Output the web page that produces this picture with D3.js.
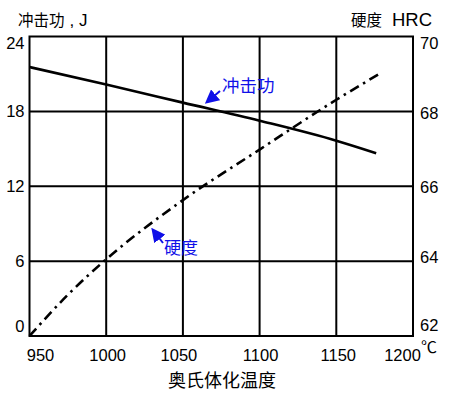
<!DOCTYPE html>
<html><head><meta charset="utf-8">
<script src="https://cdn.jsdelivr.net/npm/d3@7"></script>
<style>body{margin:0;background:#fff}svg{display:block}</style>
</head><body>
<svg id="c" width="450" height="399"></svg>
<script>
// Data
const tempTicks = [950, 1000, 1050, 1100, 1150, 1200];
const impactTicks = [0, 6, 12, 18, 24];
const hardTicks = [62, 64, 66, 68, 70];
const impactTemp = [950, 1000, 1050, 1100, 1150, 1176];
const impactVal = [21.55, 20.15, 18.7, 17.25, 15.65, 14.65];
const hardTemp = [950, 975, 1000, 1050, 1100, 1150, 1178];
const hardVal = [62.0, 63.1, 64.05, 65.63, 66.98, 68.31, 69.0];

const svg = d3.select("#c");
const L = 29.5, R = 413, T = 36.5, B = 336;
const x = d3.scaleLinear().domain([950, 1200]).range([L, R]);
const yL = d3.scaleLinear().domain([0, 24]).range([B, T]);
const yR = d3.scaleLinear().domain([62, 70]).range([B, T]);
const numFont = "'Liberation Sans', Arial, sans-serif";
const cjkFont = "'Noto Sans CJK SC', sans-serif";

// grid
const g = svg.append("g");
g.selectAll(".vg").data(tempTicks.slice(1, -1)).join("line")
  .attr("x1", d => x(d)).attr("x2", d => x(d)).attr("y1", T).attr("y2", B)
  .attr("stroke", "#000").attr("stroke-width", 2);
g.selectAll(".hg").data(impactTicks.slice(1, -1)).join("line")
  .attr("y1", d => yL(d)).attr("y2", d => yL(d)).attr("x1", L).attr("x2", R)
  .attr("stroke", "#000").attr("stroke-width", 2);
g.append("rect").attr("x", L).attr("y", T).attr("width", R - L).attr("height", B - T)
  .attr("fill", "none").attr("stroke", "#000").attr("stroke-width", 2);

// axes (labels only)
const ax = svg.append("g").attr("transform", `translate(0,${B})`)
  .call(d3.axisBottom(x).tickValues(tempTicks).tickFormat(d3.format("d")).tickSize(0).tickPadding(13));
ax.select(".domain").remove();
ax.selectAll("text").attr("font-family", numFont).attr("font-size", 16.5).attr("fill", "#000")
  .attr("dx", (d, i) => [10.5, 1, -4.5, 0.5, 1.5, -11][i]);

const al = svg.append("g").attr("transform", `translate(${L},0)`)
  .call(d3.axisLeft(yL).tickValues(impactTicks).tickSize(0).tickPadding(5));
al.select(".domain").remove();
al.selectAll("text").attr("font-family", numFont).attr("font-size", 16.5).attr("fill", "#000")
  .attr("y", d => d === 24 ? 7 : d === 0 ? -10 : 0);

const ar = svg.append("g").attr("transform", `translate(${R},0)`)
  .call(d3.axisRight(yR).tickValues(hardTicks).tickSize(0).tickPadding(7));
ar.select(".domain").remove();
ar.selectAll("text").attr("font-family", numFont).attr("font-size", 16.5).attr("fill", "#000")
  .attr("y", d => d === 70 ? 7 : d === 62 ? -11 : d === 64 ? -4 : d === 66 ? 1 : 2);

svg.append("text").attr("x", 421).attr("y", 353).attr("font-family", cjkFont)
  .attr("font-size", 16).text("℃");

// lines
const lineI = d3.line().x(d => x(d[0])).y(d => yL(d[1])).curve(d3.curveMonotoneX);
const lineH = d3.line().x(d => x(d[0])).y(d => yR(d[1])).curve(d3.curveMonotoneX);
svg.append("path").datum(impactTemp.map((t, i) => [t, impactVal[i]]))
  .attr("d", lineI).attr("fill", "none").attr("stroke", "#000").attr("stroke-width", 2.6);
svg.append("path").datum(hardTemp.map((t, i) => [t, hardVal[i]]))
  .attr("d", lineH).attr("fill", "none").attr("stroke", "#000").attr("stroke-width", 2.6)
  .attr("stroke-dasharray", "10,5,2.5,5");

// titles
const t1 = svg.append("text").attr("x", 18).attr("y", 26).attr("font-family", cjkFont)
  .attr("font-size", 15.5);
t1.append("tspan").text("冲击功");
t1.append("tspan").attr("dx", 5).attr("font-family", numFont).attr("font-size", 17).text(", J");
svg.append("text").attr("x", 351).attr("y", 26).attr("font-family", cjkFont)
  .attr("font-size", 15.5).text("硬度");
svg.append("text").attr("x", 432).attr("y", 26).attr("text-anchor", "end")
  .attr("font-family", numFont).attr("font-size", 18.5).text("HRC");
svg.append("text").attr("x", 222).attr("y", 387).attr("text-anchor", "middle")
  .attr("font-family", cjkFont).attr("font-size", 18).text("奥氏体化温度");

// annotations
const blue = "#1010e8";
const defs = svg.append("defs");
defs.append("marker").attr("id", "ah").attr("viewBox", "0 0 10 10").attr("refX", 8).attr("refY", 5)
  .attr("markerWidth", 7).attr("markerHeight", 7).attr("orient", "auto")
  .append("path").attr("d", "M0,0 L10,5 L0,10 z").attr("fill", blue);
svg.append("line").attr("x1", 220).attr("y1", 91).attr("x2", 207).attr("y2", 102)
  .attr("stroke", blue).attr("stroke-width", 2).attr("marker-end", "url(#ah)");
svg.append("text").attr("x", 222).attr("y", 92).attr("font-family", cjkFont)
  .attr("font-size", 17.5).attr("fill", blue).text("冲击功");
svg.append("line").attr("x1", 163).attr("y1", 243).attr("x2", 153).attr("y2", 230)
  .attr("stroke", blue).attr("stroke-width", 2).attr("marker-end", "url(#ah)");
svg.append("text").attr("x", 164).attr("y", 254).attr("font-family", cjkFont)
  .attr("font-size", 17).attr("fill", blue).text("硬度");
</script>
</body></html>
